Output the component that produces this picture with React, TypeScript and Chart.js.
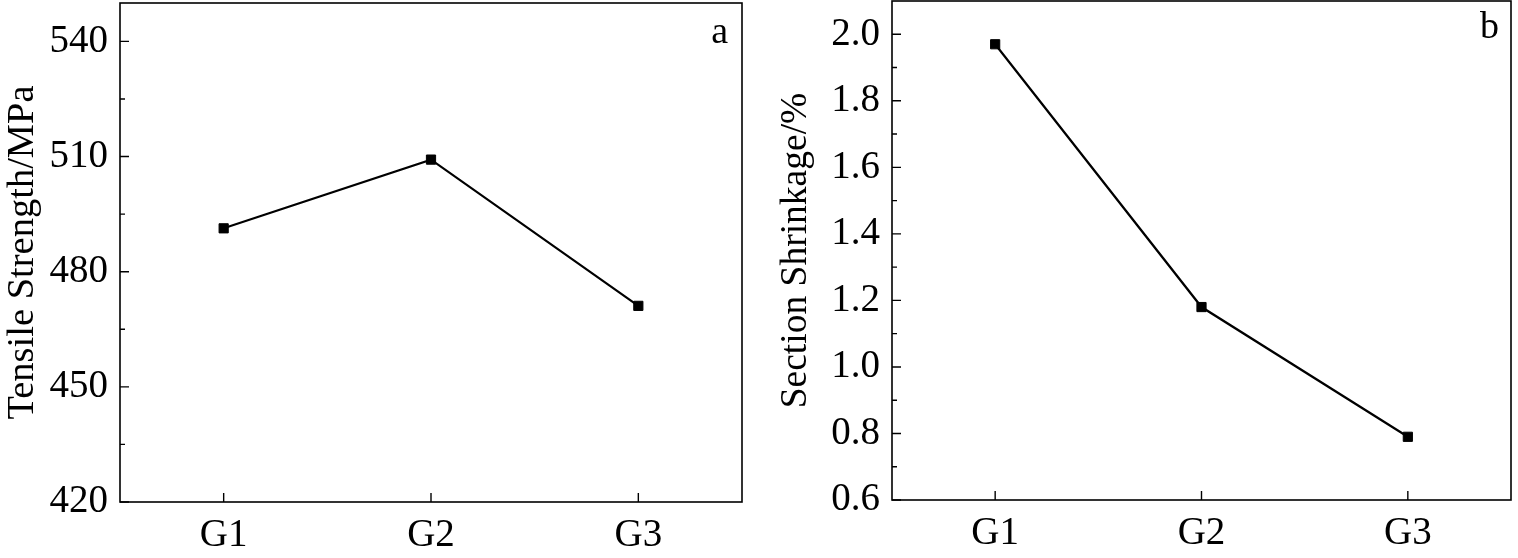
import React, { useEffect, useRef } from "react";
import { Chart, registerables } from "chart.js";

Chart.register(...registerables);

// ---- data ----
const categories = ["G1", "G2", "G3"];
const tensileStrength = [491.3, 509.2, 471.1];
const sectionShrinkage = [1.97, 1.18, 0.79];
const tensileMajorTicks = [420, 450, 480, 510, 540];
const tensileMinorTicks = [435, 465, 495, 525];
const shrinkMajorTicks = [0.6, 0.8, 1.0, 1.2, 1.4, 1.6, 1.8, 2.0];
const shrinkMinorTicks = [0.7, 0.9, 1.1, 1.3, 1.5, 1.7, 1.9];
const panelLetters = ["a", "b"];
const yTitles = ["Tensile Strength/MPa", "Section Shrinkage/%"];

const FONT = "'Times New Roman', 'Liberation Serif', serif";

type PanelCfg = {
  left: number;
  width: number;
  values: number[];
  yMin: number;
  yMax: number;
  majors: number[];
  minors: number[];
  decimals: number;
  letter: string;
  title: string;
  titleSize: number;
  titlePad: number;
  padRight: number;
  padTop: number;
  yWidth: number;
  xHeight: number;
  letterInsetX: number;
  letterBaseline: number;
};

const panels: PanelCfg[] = [
  {
    left: 0,
    width: 760,
    values: tensileStrength,
    yMin: 420,
    yMax: 550,
    majors: tensileMajorTicks,
    minors: tensileMinorTicks,
    decimals: 0,
    letter: panelLetters[0],
    title: yTitles[0],
    titleSize: 38.5,
    titlePad: 0,
    padRight: 18,
    padTop: 3,
    yWidth: 120,
    xHeight: 56,
    letterInsetX: 14,
    letterBaseline: 40,
  },
  {
    left: 760,
    width: 758,
    values: sectionShrinkage,
    yMin: 0.6,
    yMax: 2.1,
    majors: shrinkMajorTicks,
    minors: shrinkMinorTicks,
    decimals: 1,
    letter: panelLetters[1],
    title: yTitles[1],
    titleSize: 37.5,
    titlePad: 14,
    padRight: 7,
    padTop: 1,
    yWidth: 132,
    xHeight: 58,
    letterInsetX: 12,
    letterBaseline: 37,
  },
];

function makeFramePlugin(cfg: PanelCfg) {
  return {
    id: "frameTicks",
    afterDatasetsDraw(chart: any) {
      const { ctx, chartArea } = chart;
      const { left, right, top, bottom } = chartArea;
      const y = chart.scales.y;
      const x = chart.scales.x;
      ctx.save();
      ctx.strokeStyle = "#000";
      ctx.lineWidth = 1.6;
      ctx.strokeRect(left, top, right - left, bottom - top);
      ctx.lineWidth = 1.4;
      ctx.beginPath();
      cfg.majors.forEach((v) => {
        const p = y.getPixelForValue(v);
        ctx.moveTo(left, p);
        ctx.lineTo(left + 9, p);
      });
      cfg.minors.forEach((v) => {
        const p = y.getPixelForValue(v);
        ctx.moveTo(left, p);
        ctx.lineTo(left + 5, p);
      });
      categories.forEach((_, i) => {
        const p = x.getPixelForValue(i);
        ctx.moveTo(p, bottom);
        ctx.lineTo(p, bottom - 9);
      });
      ctx.stroke();
      ctx.fillStyle = "#000";
      ctx.font = `38px ${FONT}`;
      ctx.textAlign = "right";
      ctx.textBaseline = "alphabetic";
      ctx.fillText(cfg.letter, right - cfg.letterInsetX, top + cfg.letterBaseline);
      ctx.restore();
    },
  };
}

function Panel({ cfg }: { cfg: PanelCfg }) {
  const ref = useRef<HTMLCanvasElement | null>(null);
  useEffect(() => {
    if (!ref.current) return;
    const chart = new Chart(ref.current, {
      type: "line",
      data: {
        labels: categories,
        datasets: [
          {
            data: cfg.values,
            borderColor: "#000",
            backgroundColor: "#000",
            borderWidth: 2.2,
            pointStyle: "rect",
            pointRadius: 6.5,
            pointBorderWidth: 1,
            pointBorderColor: "#000",
            pointBackgroundColor: "#000",
            tension: 0,
          },
        ],
      },
      options: {
        responsive: false,
        animation: false,
        layout: { autoPadding: false, padding: { left: 0, right: cfg.padRight, top: cfg.padTop, bottom: 0 } },
        plugins: { legend: { display: false }, tooltip: { enabled: false } },
        scales: {
          x: {
            type: "category",
            offset: true,
            grid: { display: false, drawTicks: false },
            border: { display: false },
            ticks: { color: "#000", font: { family: FONT, size: 39 }, padding: 10, maxRotation: 0 },
            afterFit: (s: any) => {
              s.height = cfg.xHeight;
              s.paddingLeft = 0;
              s.paddingRight = 0;
            },
          },
          y: {
            type: "linear",
            min: cfg.yMin,
            max: cfg.yMax,
            grid: { display: false, drawTicks: false },
            border: { display: false },
            ticks: {
              color: "#000",
              font: { family: FONT, size: 39 },
              padding: 12,
              callback: (v: any) => Number(v).toFixed(cfg.decimals),
            },
            title: {
              display: true,
              text: cfg.title,
              color: "#000",
              font: { family: FONT, size: cfg.titleSize },
              padding: { top: cfg.titlePad, bottom: 0 },
            },
            afterBuildTicks: (s: any) => {
              s.ticks = cfg.majors.map((v) => ({ value: v }));
            },
            afterFit: (s: any) => {
              s.width = cfg.yWidth;
              s.paddingTop = 0;
              s.paddingBottom = 0;
            },
          },
        },
      } as any,
      plugins: [makeFramePlugin(cfg)],
    });
    return () => chart.destroy();
  }, [cfg]);
  return (
    <canvas
      ref={ref}
      width={cfg.width}
      height={558}
      style={{ position: "absolute", left: cfg.left, top: 0, width: cfg.width, height: 558 }}
    />
  );
}

export default function App() {
  return (
    <div style={{ position: "fixed", left: 0, top: 0, width: 1518, height: 558, background: "#fff" }}>
      {panels.map((p, i) => (
        <Panel key={i} cfg={p} />
      ))}
    </div>
  );
}
